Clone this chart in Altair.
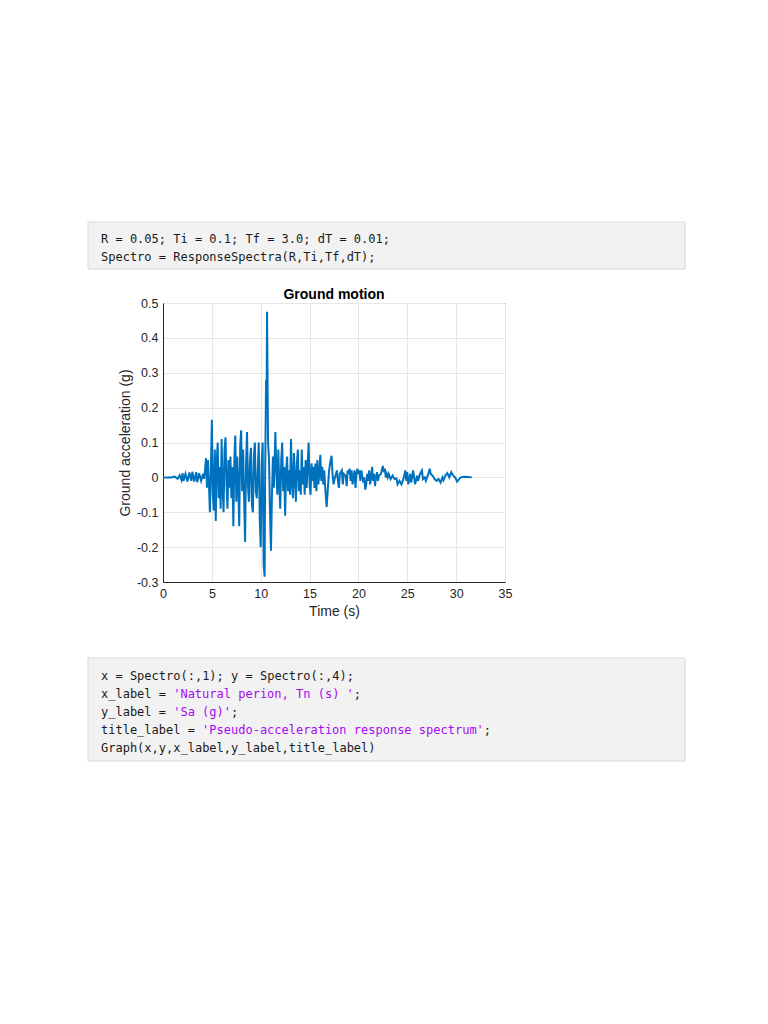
import altair as alt
import pandas as pd

# ground acceleration record (s, g)
time_s = [
    0.0, 0.8, 1.2, 1.5, 1.7, 1.9, 2.0, 2.1, 2.3, 2.5, 2.7, 2.9, 3.0, 3.2, 3.4,
    3.5, 3.7, 3.9, 4.1, 4.2,
    4.3, 4.4, 4.5, 4.6, 4.7, 4.8, 4.9, 5.0, 5.1, 5.2, 5.3, 5.4, 5.5, 5.6, 5.7,
    5.8, 5.9, 6.0, 6.1, 6.2, 6.3, 6.4, 6.5, 6.6, 6.7, 6.8, 6.9, 7.0, 7.1, 7.2,
    7.3, 7.4, 7.5, 7.6, 7.7, 7.8, 7.9, 8.0, 8.1, 8.2, 8.3, 8.4, 8.5, 8.6, 8.7,
    8.8, 8.9, 9.0, 9.1, 9.2, 9.3, 9.4, 9.5, 9.6, 9.7, 9.8, 9.9, 10.0,
    10.1, 10.2, 10.3, 10.4, 10.45, 10.55, 10.6, 10.65, 10.75, 10.85, 10.95,
    11.05, 11.15, 11.25, 11.35, 11.5, 11.6, 11.7, 11.8, 11.9, 12.0, 12.1, 12.2,
    12.3, 12.4, 12.5, 12.6, 12.7, 12.8, 12.9, 13.0, 13.1, 13.2, 13.3, 13.4,
    13.5, 13.6, 13.7, 13.8, 13.9, 14.0, 14.1, 14.2, 14.3, 14.4, 14.5, 14.6,
    14.7, 14.9, 15.0, 15.1, 15.2, 15.3, 15.4, 15.5, 15.6, 15.7, 15.8, 15.9,
    16.0, 16.1, 16.2, 16.3, 16.4, 16.5, 16.6, 16.75, 16.9, 17.0, 17.1, 17.25,
    17.35, 17.45,
    17.6, 17.8, 17.9, 18.0, 18.1, 18.3, 18.4, 18.5, 18.7, 18.8, 18.9, 19.0,
    19.1, 19.2, 19.3, 19.4, 19.5, 19.6, 19.7, 19.8, 19.9, 20.0, 20.1, 20.2,
    20.3, 20.5, 20.6, 20.7, 20.8, 20.9, 21.0, 21.1, 21.2, 21.3, 21.4, 21.5,
    21.6, 21.7, 21.8, 21.9, 22.0, 22.1, 22.3, 22.5, 22.6, 22.7, 22.8, 22.9,
    23.0, 23.1, 23.3, 23.5, 23.7, 23.9, 24.0, 24.2, 24.4, 24.6, 24.8, 24.9,
    25.0, 25.1, 25.3, 25.4, 25.6, 25.7, 25.8, 26.0, 26.1, 26.3, 26.5, 26.6,
    26.8, 26.9, 27.1, 27.3, 27.4, 27.6, 27.8, 28.0, 28.2, 28.4, 28.6, 28.7,
    28.9, 29.1, 29.3, 29.5, 29.7, 29.9, 30.1, 30.3, 30.5, 30.8, 31.2, 31.6,
]
accel_g = [
    0.0, 0.0, 0.002, -0.004, 0.006, -0.008, 0.012, -0.01, 0.01, -0.012, 0.014,
    -0.01, 0.016, -0.012, 0.015, -0.014, 0.012, -0.01, 0.01, -0.004,
    0.02, 0.055, -0.03, 0.05, -0.02, -0.1, 0.02, 0.165, -0.05, -0.095, 0.08,
    -0.125, 0.05, 0.1, -0.06, 0.03, -0.09, 0.11, -0.03, -0.1, 0.08, 0.115,
    -0.02, -0.09, 0.05, -0.03, 0.06, -0.06, 0.03, -0.14, 0.05, 0.12, -0.07,
    0.06, -0.02, -0.14, 0.09, 0.135, -0.04, 0.08, -0.06, -0.185, 0.04, 0.13,
    -0.03, -0.07, 0.05, 0.085, -0.08, -0.1, 0.06, 0.1, -0.04, -0.06, 0.02, 0.1,
    -0.12, -0.2,
    0.04, 0.1, -0.25, -0.285, 0.0, 0.28, 0.2, 0.475, 0.1, 0.05, -0.1, -0.21,
    -0.05, 0.06, -0.03, 0.13, 0.02, -0.05, 0.08, -0.02, -0.09, 0.05, 0.1,
    -0.04, 0.03, -0.11, 0.02, 0.06, -0.04, 0.02, -0.05, 0.11, -0.02, -0.06,
    0.07, 0.0, -0.07, 0.04, 0.08, -0.04, 0.02, -0.05, 0.08, -0.02, 0.03, -0.05,
    0.05, -0.03, 0.1, -0.02, -0.05, 0.04, -0.01, 0.03, -0.03, 0.04, -0.04,
    0.05, -0.02, 0.01, 0.065, -0.01, 0.03, -0.02, 0.02, -0.03, -0.085, -0.02,
    0.02, 0.04, 0.062, 0.01, -0.02,
    0.0, 0.02, -0.01, -0.03, 0.01, 0.02, -0.02, 0.01, 0.005, -0.025, 0.02,
    0.01, 0.025, -0.01, 0.02, -0.02, 0.0, 0.02, -0.03, 0.01, 0.025, 0.01, 0.02,
    -0.01, 0.02, -0.015, 0.0, -0.035, -0.02, 0.01, -0.01, 0.02, -0.02, 0.0,
    0.03, -0.01, 0.01, -0.025, 0.0, 0.015, -0.01, 0.005, 0.01, 0.033, 0.015,
    0.025, 0.0, 0.01, 0.0, 0.01, -0.005, 0.005, -0.005, -0.003, -0.02, -0.01,
    -0.02, -0.005, 0.02, -0.01, 0.015, -0.02, 0.01, -0.015, 0.02, 0.0, -0.02,
    0.005, -0.01, 0.01, 0.02, -0.005, 0.0, -0.01, 0.005, 0.025, 0.01, 0.005,
    -0.005, -0.01, -0.005, -0.015, 0.0, -0.008, 0.005, 0.012, 0.0, 0.015,
    0.005, 0.0, -0.012, -0.005, 0.0, 0.002, 0.001, 0.0,
]

x_ticks = [0, 5, 10, 15, 20, 25, 30, 35]
y_ticks = [-0.3, -0.2, -0.1, 0, 0.1, 0.2, 0.3, 0.4, 0.5]

# live-script code cells: (text, is_string) segments per line
code_cell_1 = [
    [("R = 0.05; Ti = 0.1; Tf = 3.0; dT = 0.01;", False)],
    [("Spectro = ResponseSpectra(R,Ti,Tf,dT);", False)],
]
code_cell_2 = [
    [("x = Spectro(:,1); y = Spectro(:,4);", False)],
    [("x_label = ", False), ("'Natural perion, Tn (s) '", True), (";", False)],
    [("y_label = ", False), ("'Sa (g)'", True), (";", False)],
    [("title_label = ", False),
     ("'Pseudo-acceleration response spectrum'", True), (";", False)],
    [("Graph(x,y,x_label,y_label,title_label)", False)],
]

motion = pd.DataFrame({"t": time_s, "a": accel_g})
one = pd.DataFrame({"k": [0]})

CHAR_W = 7.22


def code_box(y0, y1):
    return alt.Chart(one).mark_rect(
        fill="#f2f2f2", stroke="#d9d9d9", strokeWidth=1
    ).encode(x=alt.value(-75), x2=alt.value(522),
             y=alt.value(y0), y2=alt.value(y1))


def code_lines(cell, y_first, step):
    layers = []
    for i, line in enumerate(cell):
        col = 0
        for txt, is_str in line:
            layers.append(
                alt.Chart(one).mark_text(
                    align="left", baseline="middle", font="DejaVu Sans Mono",
                    fontSize=12, color="#a709f5" if is_str else "#1a1a1a"
                ).encode(x=alt.value(-62 + CHAR_W * col),
                         y=alt.value(y_first + step * i),
                         text=alt.value(txt))
            )
            col += len(txt)
    return layers


line = alt.Chart(motion).mark_line(color="#0072bd", strokeWidth=2).encode(
    x=alt.X("t:Q", scale=alt.Scale(domain=[0, 35], nice=False),
            axis=alt.Axis(values=x_ticks, format="d", title="Time (s)",
                          titlePadding=5, labelFlush=False)),
    y=alt.Y("a:Q", scale=alt.Scale(domain=[-0.3, 0.5], nice=False),
            axis=alt.Axis(values=y_ticks, title="Ground acceleration (g)",
                          labelExpr="toString(round(datum.value*10)/10)",
                          titlePadding=4, labelFlush=False)),
    order="t:Q",
)

title = alt.Chart(one).mark_text(
    font="Liberation Sans", fontSize=14, fontWeight="bold", color="#000000",
    baseline="alphabetic"
).encode(x=alt.value(171), y=alt.value(-4), text=alt.value("Ground motion"))

chart = alt.layer(
    code_box(-81, -34), code_box(355, 458),
    *code_lines(code_cell_1, -64, 18),
    *code_lines(code_cell_2, 373, 17.9),
    line, title,
).properties(
    width=342, height=279,
    padding={"left": 155, "top": 295, "right": 255, "bottom": 300},
    autosize=alt.AutoSizeParams(type="none"),
).configure_view(
    stroke="#262626", strokeWidth=1
).configure_axis(
    labelFont="Liberation Sans", labelFontSize=12.5, labelColor="#262626",
    titleFont="Liberation Sans", titleFontSize=14, titleFontWeight="normal",
    titleColor="#262626", domainColor="#262626", tickSize=0, labelPadding=5,
    gridColor="#e6e6e6", grid=True,
)

chart.save("out.html", embed_options={"renderer": "svg", "actions": False})
